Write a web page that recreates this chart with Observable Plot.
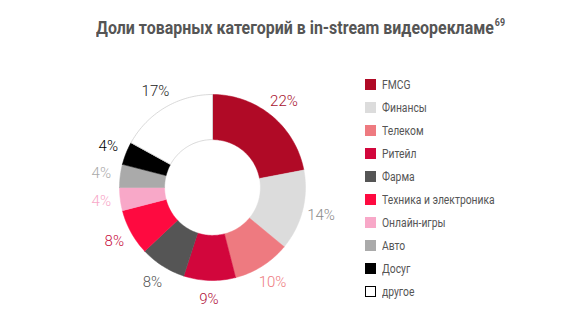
<!DOCTYPE html>
<html><head><meta charset="utf-8">
<script src="https://cdn.jsdelivr.net/npm/d3@7"></script>
<script src="https://cdn.jsdelivr.net/npm/@observablehq/plot@0.6"></script>
<style>
body{margin:0;background:#fff;width:565px;height:330px;overflow:hidden;position:relative;font-family:Roboto,"Liberation Sans",sans-serif}
#title{position:absolute;left:96px;top:17px;font-family:Roboto,"Liberation Sans",sans-serif;font-weight:bold;font-size:18px;color:#555;white-space:nowrap;transform-origin:0 0;display:inline-block;line-height:22px}
#title sup{font-size:10px;vertical-align:baseline;position:relative;top:-8px;margin-left:1px}
#chart{position:absolute;left:0;top:45px}
#legend{position:absolute;left:365px;top:78px;font-family:Roboto,"Liberation Sans",sans-serif;font-size:12px;color:#555}
.row{height:23px;display:flex;align-items:flex-start;white-space:nowrap}
.sw{width:11px;height:11px;margin-right:6px;margin-top:1px;box-sizing:border-box;flex:none}
.row span{display:inline-block;transform:scaleX(0.86);transform-origin:0 0}
</style></head><body>
<div id="title">Доли товарных категорий в in-stream видеорекламе<sup>69</sup></div>
<div id="chart"></div>
<div id="legend"></div>
<script>
const categories = ["FMCG","Финансы","Телеком","Ритейл","Фарма","Техника и электроника","Онлайн-игры","Авто","Досуг","другое"];
const shares = [22,14,10,9,8,8,4,4,4,17];
const colors = ["#b00a26","#dcdcdc","#ee7a80","#d2063c","#555555","#fe0a40","#f8a8c8","#aaaaaa","#000000","#ffffff"];
const labelColors = ["#a8122e","#8a8a8a","#ee7a80","#b0103a","#555555","#c8103e","#f8a8c8","#aaaaaa","#000000","#222222"];

const data = categories.map((c,i)=>({category:c, value:shares[i]}));
const arcs = d3.pie().sort(null).value(d=>d.value)(data);
const R0 = 0.515, R1 = 1, RL = 1.205;
const pts = [];
for (const a of arcs) {
  const n = Math.max(8, Math.ceil((a.endAngle-a.startAngle)*40));
  const ring = [];
  for (let k=0;k<=n;k++){const t=a.startAngle+(a.endAngle-a.startAngle)*k/n; ring.push([R1*Math.sin(t),R1*Math.cos(t)]);}
  for (let k=n;k>=0;k--){const t=a.startAngle+(a.endAngle-a.startAngle)*k/n; ring.push([R0*Math.sin(t),R0*Math.cos(t)]);}
  ring.push(ring[0]);
  ring.forEach(([x,y])=>pts.push({category:a.data.category,x,y}));
}
const labels = arcs.map((a,i)=>{const m=(a.startAngle+a.endAngle)/2; return {category:a.data.category, x:RL*Math.sin(m), y:RL*Math.cos(m), text:a.data.value+"%", color:labelColors[i]};});

const cx=212, cy=142, r=93;
const plot = Plot.plot({
  width:565, height:285, margin:0,
  x:{domain:[-1,1], range:[cx-r,cx+r], axis:null},
  y:{domain:[-1,1], range:[cy+r,cy-r], axis:null},
  color:{domain:categories, range:colors},
  marks:[
    Plot.line(pts,{x:"x",y:"y",z:"category",fill:"category",stroke:"category",strokeWidth:0.5,curve:"linear"}),
    Plot.line(pts.filter(d=>d.category==="другое"),{x:"x",y:"y",stroke:"#cfcfcf",strokeWidth:0.8}),
    Plot.text(labels,{x:"x",y:"y",text:"text",fill:d=>d.color,fontSize:15,fontFamily:"Roboto",fontWeight:300})
  ]
});
document.getElementById("chart").appendChild(plot);

const leg = document.getElementById("legend");
categories.forEach((c,i)=>{
  const row=document.createElement("div");row.className="row";
  const sw=document.createElement("div");sw.className="sw";sw.style.background=colors[i];
  if(colors[i]==="#ffffff") sw.style.border="1px solid #000";
  const t=document.createElement("span");t.textContent=c;
  row.appendChild(sw);row.appendChild(t);leg.appendChild(row);
});
const title=document.getElementById("title");
const w=title.getBoundingClientRect().width;
title.style.transform=`scaleX(${409/w})`;
</script></body></html>
